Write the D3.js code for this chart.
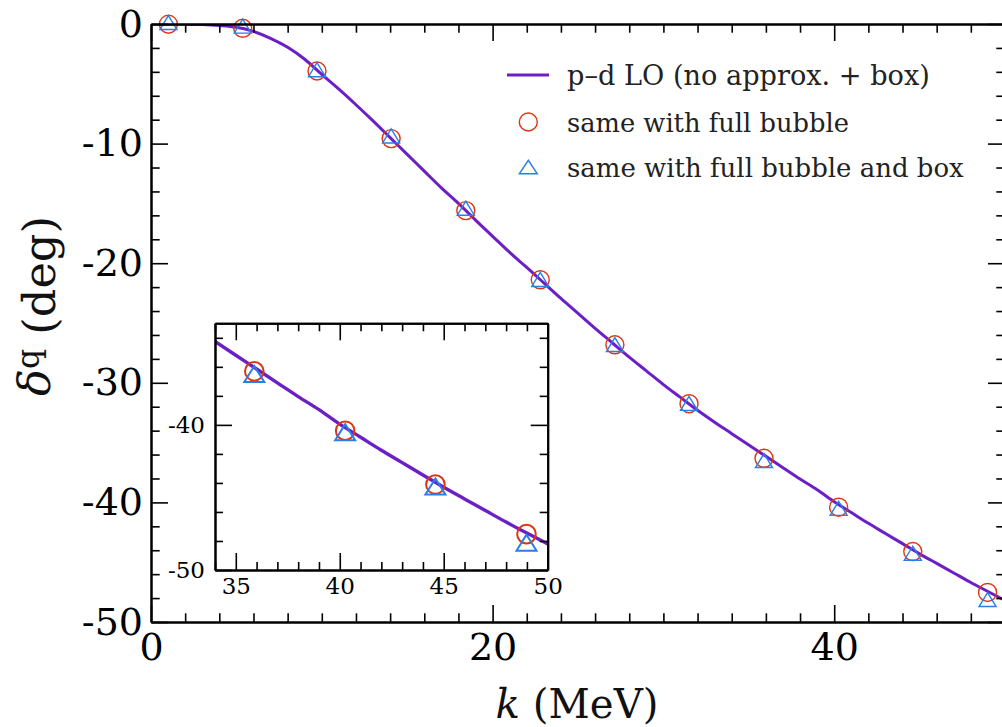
<!DOCTYPE html>
<html><head><meta charset="utf-8">
<script src="https://cdn.jsdelivr.net/npm/d3@7"></script>
<style>
body{margin:0;background:#fff}svg{display:block}
svg text{font-family:"DejaVu Serif","Liberation Serif",serif !important}
</style>
</head><body><svg id="c" width="1002" height="727"></svg>
<script>
// ---- data ----
const curveK = [0,1,2,3,4,5,6,7,8,9,10,11,12,13,14,15,16,17,18,19,20,21,22,23,24,25,26,27,28,29,30,31,32,33,34,35,36,37,38,39,40,41,42,43,44,45,46,47,48,49,50];
const curveDelta = [0,0,-0.01,-0.04,-0.12,-0.27,-0.62,-1.2,-1.95,-2.95,-4.22,-5.45,-6.75,-8.1,-9.5,-10.9,-12.3,-13.7,-15.0,-16.4,-17.75,-19.1,-20.35,-21.65,-22.95,-24.2,-25.45,-26.65,-27.85,-29.0,-30.15,-31.22,-32.3,-33.3,-34.25,-35.2,-36.15,-37.1,-38.05,-38.95,-39.95,-40.85,-41.75,-42.6,-43.45,-44.3,-45.1,-45.9,-46.7,-47.45,-48.2];
const symK = [1.02,5.37,9.72,14.06,18.43,22.79,27.16,31.5,35.89,40.26,44.6,48.98];
const bubbleDelta = [-0.02,-0.36,-3.93,-9.58,-15.6,-21.39,-26.82,-31.75,-36.31,-40.4,-44.11,-47.53];
const boxDelta = [0.12,-0.18,-3.82,-9.36,-15.4,-21.36,-26.8,-31.72,-36.5,-40.5,-44.25,-48.12];
const mainXMajor = [0,20,40];
const mainXMinor = [2,4,6,8,10,12,14,16,18,22,24,26,28,30,32,34,36,38,42,44,46,48];
const mainYMajor = [0,-10,-20,-30,-40,-50];
const mainYMinor = [-2,-4,-6,-8,-12,-14,-16,-18,-22,-24,-26,-28,-32,-34,-36,-38,-42,-44,-46,-48];
const insetXMajor = [35,40,45,50];
const insetXMinor = [34,36,37,38,39,41,42,43,44,46,47,48,49];
const insetYMajor = [-40,-50];
const insetYMinor = [-34,-36,-38,-42,-44,-46,-48];
const legendLabels = ["p\u2013d LO (no approx. + box)","same with full bubble","same with full bubble and box"];
const xTitle = ["k"," (MeV)"];
const yTitle = ["\u03b4","q"," (deg)"];

// ---- style ----
const lineColor = "#6c1fc4", circColor = "#dc3512", triColor = "#2a7ee8";

const svg = d3.select("#c");
const x = d3.scaleLinear().domain([0,50]).range([151,1005]);
const y = d3.scaleLinear().domain([-50,0]).range([622,24]);

const curveData = curveK.map((k,i)=>({k, d:curveDelta[i]}));
const symData = symK.map((k,i)=>({k, b:bubbleDelta[i], t:boxDelta[i]}));

function triPath(w,h){ return `M0,${-h/2}L${w/2},${h/2}L${-w/2},${h/2}Z`; }
// scale a text's font size so it spans the target width
function fitWidth(sel, target){
  const n = sel.node(); const fs = parseFloat(sel.style("font-size"));
  const w = n.getComputedTextLength(); if (w>0) sel.style("font-size",(fs*target/w)+"px");
}

svg.append("defs").append("clipPath").attr("id","mainclip").append("rect")
  .attr("x",151).attr("y",24).attr("width",854).attr("height",598);

const line = d3.line().x(d=>x(d.k)).y(d=>y(d.d)).curve(d3.curveMonotoneX);
svg.append("path").datum(curveData).attr("d",line).attr("fill","none")
  .attr("stroke",lineColor).attr("stroke-width",3).attr("clip-path","url(#mainclip)");

svg.append("g").selectAll("circle").data(symData).join("circle")
  .attr("cx",d=>x(d.k)).attr("cy",d=>y(d.b)).attr("r",9)
  .attr("fill","none").attr("stroke",circColor).attr("stroke-width",1.4);
svg.append("g").selectAll("path").data(symData).join("path")
  .attr("transform",d=>`translate(${x(d.k)},${y(d.t)})`).attr("d",triPath(17,14))
  .attr("fill","none").attr("stroke",triColor).attr("stroke-width",1.4);

function axisSet(g, scale, orient, major, minor, majLen, minLen, fmt, fontSize, pad){
  const mk = {bottom:d3.axisBottom, top:d3.axisTop, left:d3.axisLeft, right:d3.axisRight}[orient];
  const gMaj = g.append("g").call(mk(scale).tickValues(major).tickSize(-majLen).tickSizeOuter(0)
    .tickPadding(pad).tickFormat(fmt || (()=> "")));
  const gMin = g.append("g").call(mk(scale).tickValues(minor).tickSize(-minLen).tickSizeOuter(0).tickFormat(()=>""));
  [gMaj,gMin].forEach(a=>{
    a.select(".domain").attr("stroke","#000").attr("stroke-width",2);
    a.selectAll(".tick line").attr("stroke","#000").attr("stroke-width",1.6);
    a.selectAll("text").attr("fill","#000").style("font-size",fontSize+"px");
  });
  return gMaj;
}
const fmtInt = d=>String(d);

const gx = svg.append("g").attr("transform","translate(0,622)");
axisSet(gx, x, "bottom", mainXMajor, mainXMinor, 17, 8.7, fmtInt, 38, 11);
gx.selectAll("text").attr("dy","0.71em");
const gxt = svg.append("g").attr("transform","translate(0,24)");
axisSet(gxt, x, "top", mainXMajor, mainXMinor, 17, 8.7, null, 38, 0);
const gy = svg.append("g").attr("transform","translate(151,0)");
axisSet(gy, y, "left", mainYMajor, mainYMinor, 17, 8.7, fmtInt, 38, 8);
const gyr = svg.append("g").attr("transform","translate(1005,0)");
axisSet(gyr, y, "right", mainYMajor, mainYMinor, 17, 8.7, null, 38, 0);

const xt = svg.append("text").attr("x",577).attr("y",718).attr("text-anchor","middle")
  .style("font-size","40px").attr("fill","#111");
xt.append("tspan").style("font-style","italic").text(xTitle[0]);
xt.append("tspan").text(xTitle[1]);
fitWidth(xt, 163);
const yt = svg.append("text").attr("transform","translate(50,306) rotate(-90)").attr("text-anchor","middle")
  .style("font-size","40px").attr("fill","#111");
yt.append("tspan").style("font-style","italic").text(yTitle[0]);
yt.append("tspan").attr("dy","-0.35em").style("font-size","0.7em").text(yTitle[1]);
yt.append("tspan").attr("dy","0.35em").text(yTitle[2]);
fitWidth(yt, 180);

// ---- inset ----
const ix = d3.scaleLinear().domain([34,50]).range([215,547.7]);
const iy = d3.scaleLinear().domain([-50,-33]).range([570,323.3]);
const inset = svg.append("g");
inset.append("rect").attr("x",215).attr("y",323.3).attr("width",332.7).attr("height",246.7).attr("fill","#fff");
svg.select("defs").append("clipPath").attr("id","insetclip").append("rect")
  .attr("x",215).attr("y",323.3).attr("width",332.7).attr("height",246.7);
const iline = d3.line().x(d=>ix(d.k)).y(d=>iy(d.d)).curve(d3.curveMonotoneX);
inset.append("path").datum(curveData.filter(d=>d.k>=32)).attr("d",iline).attr("fill","none")
  .attr("stroke",lineColor).attr("stroke-width",3.4).attr("clip-path","url(#insetclip)");
const insetSym = symData.filter(d=>d.k>=34);
inset.append("g").selectAll("circle").data(insetSym).join("circle")
  .attr("cx",d=>ix(d.k)).attr("cy",d=>iy(d.b)).attr("r",9.3)
  .attr("fill","none").attr("stroke",circColor).attr("stroke-width",2);
inset.append("g").selectAll("path").data(insetSym).join("path")
  .attr("transform",d=>`translate(${ix(d.k)},${iy(d.t)})`).attr("d",triPath(20,16))
  .attr("fill","none").attr("stroke",triColor).attr("stroke-width",2);
const igx = inset.append("g").attr("transform","translate(0,570)");
axisSet(igx, ix, "bottom", insetXMajor, insetXMinor, 17, 8, fmtInt, 23, 8);
igx.selectAll("text").attr("dy","0.71em");
const igxt = inset.append("g").attr("transform","translate(0,323.3)");
axisSet(igxt, ix, "top", insetXMajor, insetXMinor, 17, 8, null, 23, 0);
const igy = inset.append("g").attr("transform","translate(215,0)");
axisSet(igy, iy, "left", insetYMajor, insetYMinor, 17, 8, fmtInt, 23, 10);
const igyr = inset.append("g").attr("transform","translate(547.7,0)");
axisSet(igyr, iy, "right", insetYMajor, insetYMinor, 17, 8, null, 23, 0);

// ---- legend ----
const leg = svg.append("g");
const legY = [75, 122, 167];
const legW = [363, 282, 397];
leg.append("line").attr("x1",507).attr("x2",549).attr("y1",legY[0]).attr("y2",legY[0])
  .attr("stroke",lineColor).attr("stroke-width",3);
leg.append("circle").attr("cx",528.3).attr("cy",legY[1]).attr("r",9)
  .attr("fill","none").attr("stroke",circColor).attr("stroke-width",1.4);
leg.append("path").attr("transform",`translate(528.3,${legY[2]})`).attr("d",triPath(18,13.5))
  .attr("fill","none").attr("stroke",triColor).attr("stroke-width",1.4);
leg.selectAll("text").data(legendLabels).join("text")
  .attr("x",567).attr("y",(d,i)=>legY[i]+10).text(d=>d)
  .style("font-size","28px").attr("fill","#222")
  .each(function(d,i){ fitWidth(d3.select(this), legW[i]); });
</script></body></html>
